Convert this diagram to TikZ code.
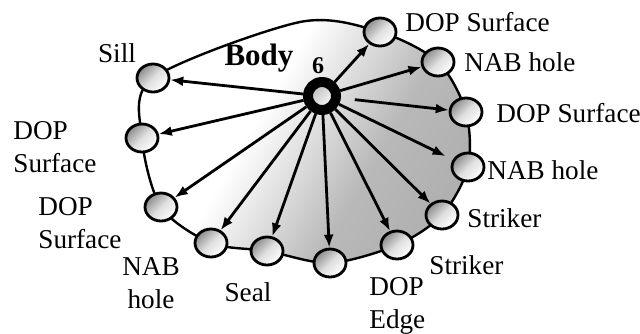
\documentclass[tikz,border=0pt]{standalone}
\usepackage{fontspec}
\setmainfont{Liberation Serif}
\usetikzlibrary{arrows.meta}
\usetikzlibrary{shapes.geometric}
\usetikzlibrary{backgrounds}

\pgfdeclarehorizontalshading{bodyfade}{100bp}{color(0bp)=(white); color(42bp)=(white); color(62bp)=(gray!55); color(100bp)=(gray!75)}

\begin{document}
\begin{tikzpicture}[x=0.5pt, y=-0.5pt,
					b/.style={ellipse, draw=black, line width=1.4pt, minimum width=16pt, minimum height=14pt, inner sep=0pt, top color=gray!90, bottom color=white, middle color=gray!25, shading angle=45},
					h/.style={circle, draw=black, line width=5pt, minimum size=14pt, inner sep=0pt, top color=gray!55, bottom color=white, shading angle=45},
					t/.style={font=\fontsize{13.6}{16.5}\selectfont, inner sep=0pt},
					bt/.style={font=\bfseries\fontsize{15.5}{18}\selectfont, inner sep=0pt},
					arr/.style={-{Latex[length=6.5pt, width=5pt]}, line width=1.4pt}
					]
					\useasboundingbox (0,0) rectangle (640,333);

					%Nodes
					\node[h] (hub)      at (322, 96)  {};
					\node[b] (sill)     at (153, 78)  {};
					\node[b] (dopL)     at (142, 138) {};
					\node[b] (dopLL)    at (161, 207) {};
					\node[b] (nabLL)    at (211, 243) {};
					\node[b] (seal)     at (267, 251) {};
					\node[b] (edge)     at (330, 263) {};
					\node[b] (strikerB) at (397, 245) {};
					\node[b] (striker)  at (442, 215) {};
					\node[b] (nabR)     at (468, 167) {};
					\node[b] (dopR)     at (466, 112) {};
					\node[b] (nabT)     at (438, 62)  {};
					\node[b] (dopT)     at (380, 32)  {};

					%Body outline
					\begin{scope}[on background layer]
						\coordinate (top) at (300, 22);
						\shadedraw[shading=bodyfade, shading angle=-30, line width=1.2pt]
							plot[smooth cycle] coordinates {(sill.center) (top) (dopT.center) (nabT.center) (dopR.center) (nabR.center) (striker.center) (strikerB.center) (edge.center) (seal.center) (nabLL.center) (dopLL.center) (dopL.center)};
					\end{scope}

					%Labels
					\node[bt] (lbody)   at (259, 58)  {Body};
					\node[bt, font=\bfseries\fontsize{12}{14}\selectfont] (lsix) at (318, 66) {6};
					\node[t] (lsill)    at (117, 53)  {Sill};
					\node[t, anchor=west] (ldopT)   at (405, 22)  {DOP Surface};
					\node[t, anchor=west] (lnabT)   at (464, 62)  {NAB hole};
					\node[t, anchor=west] (ldopR)   at (496, 113) {DOP Surface};
					\node[t, anchor=west] (lnabR)   at (487, 170) {NAB hole};
					\node[t, anchor=west] (lstr)    at (467, 218) {Striker};
					\node[t, anchor=west] (lstrB)   at (429, 265) {Striker};
					\node[t, anchor=west, align=left] (ledge)  at (369, 306) {DOP\\Edge};
					\node[t] (lseal)    at (248, 292) {Seal};
					\node[t, align=center] (lnabLL) at (151, 283) {NAB\\hole};
					\node[t, anchor=west, align=left] (ldopLL) at (38, 223) {DOP\\Surface};
					\node[t, anchor=west, align=left] (ldopL)  at (13, 147) {DOP\\Surface};

					%Lines
					\draw[arr] (hub) -- (sill);
					\draw[arr] (hub) -- (dopL);
					\draw[arr] (hub) -- (dopLL);
					\draw[arr] (hub) -- (nabLL);
					\draw[arr] (hub) -- (seal);
					\draw[arr] (hub) -- (edge);
					\draw[arr] (hub) -- (strikerB);
					\draw[arr] (hub) -- (striker);
					\draw[arr, shorten >=4pt] (hub) -- (nabR);
					\draw[arr, shorten <=7pt] (hub) -- (dopR);
					\draw[arr] (hub) -- (nabT);
					\draw[arr] (hub) -- (dopT);
				\end{tikzpicture}
\end{document}
